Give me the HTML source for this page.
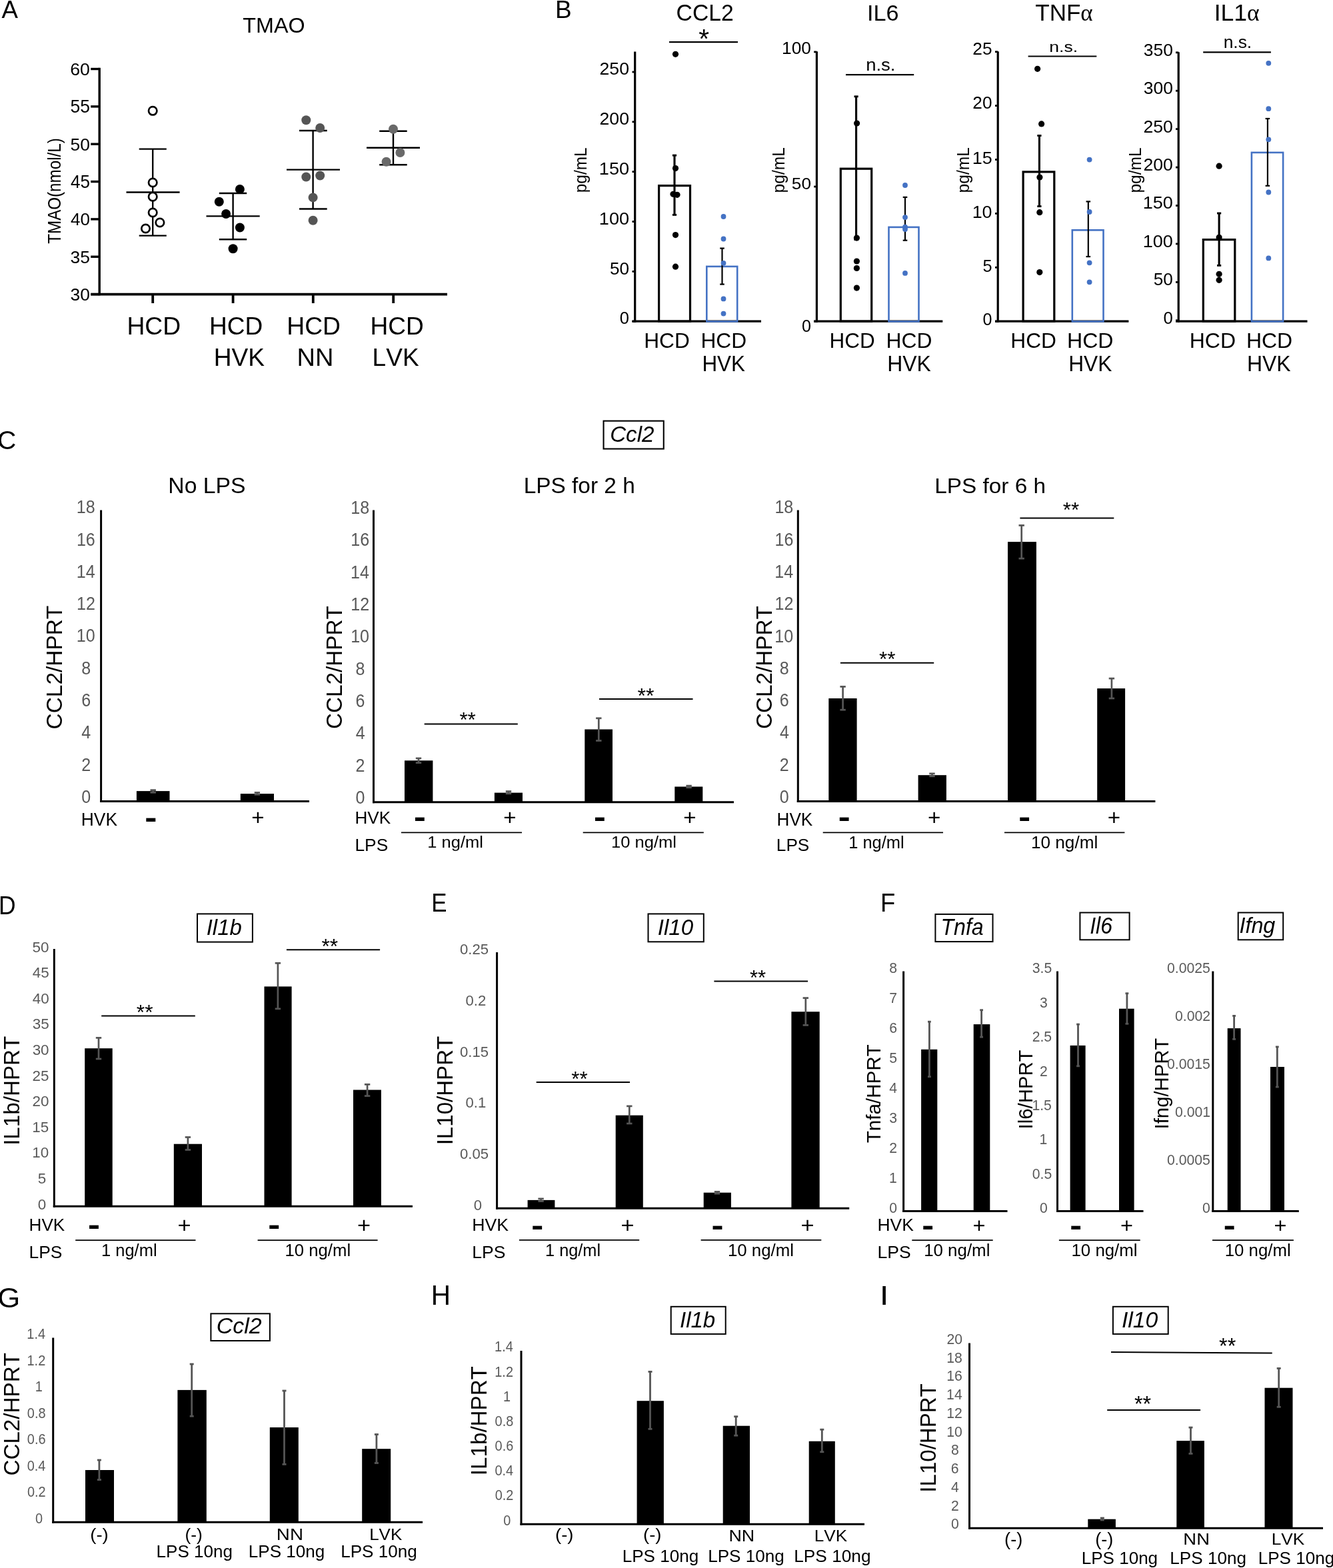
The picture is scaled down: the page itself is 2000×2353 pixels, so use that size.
<!DOCTYPE html>
<html><head><meta charset="utf-8"><title>Figure</title>
<style>
html,body{margin:0;padding:0;background:#fff;}
body{width:2000px;height:2353px;overflow:hidden;}
svg{display:block;}
svg text{font-family:'Liberation Sans',Arial,Helvetica,sans-serif;font-kerning:none;}
</style></head><body>
<svg width="2000" height="2353" viewBox="0 0 2000 2353">
<rect width="2000" height="2353" fill="#fff"/>
<text x="2.53" y="26.9" font-size="37.65" textLength="24.44" lengthAdjust="spacingAndGlyphs">A</text>
<text x="364.27" y="49.3" font-size="30.79" textLength="93.27" lengthAdjust="spacingAndGlyphs">TMAO</text>
<text x="0" y="0" font-size="26.83" textLength="158.44" lengthAdjust="spacingAndGlyphs" transform="translate(90.54 365.74) rotate(-90)">TMAO(nmol/L)</text>
<line x1="149.2" y1="101.7" x2="149.2" y2="443.3" stroke="#000" stroke-width="3.4"/>
<line x1="136.2" y1="441.6" x2="149.2" y2="441.6" stroke="#000" stroke-width="3.4"/>
<text x="105.6" y="451.14" font-size="26.69" textLength="29.33" lengthAdjust="spacingAndGlyphs">30</text>
<line x1="136.2" y1="385.25" x2="149.2" y2="385.25" stroke="#000" stroke-width="3.4"/>
<text x="105.59" y="394.79" font-size="26.69" textLength="29.42" lengthAdjust="spacingAndGlyphs">35</text>
<line x1="136.2" y1="328.9" x2="149.2" y2="328.9" stroke="#000" stroke-width="3.4"/>
<text x="106" y="338.44" font-size="26.69" textLength="28.91" lengthAdjust="spacingAndGlyphs">40</text>
<line x1="136.2" y1="272.55" x2="149.2" y2="272.55" stroke="#000" stroke-width="3.4"/>
<text x="106" y="282.09" font-size="27.09" textLength="28.99" lengthAdjust="spacingAndGlyphs">45</text>
<line x1="136.2" y1="216.2" x2="149.2" y2="216.2" stroke="#000" stroke-width="3.4"/>
<text x="105.54" y="225.74" font-size="26.69" textLength="29.39" lengthAdjust="spacingAndGlyphs">50</text>
<line x1="136.2" y1="159.85" x2="149.2" y2="159.85" stroke="#000" stroke-width="3.4"/>
<text x="105.54" y="169.39" font-size="27.09" textLength="29.47" lengthAdjust="spacingAndGlyphs">55</text>
<line x1="136.2" y1="103.5" x2="149.2" y2="103.5" stroke="#000" stroke-width="3.4"/>
<text x="105.24" y="113.04" font-size="26.69" textLength="29.7" lengthAdjust="spacingAndGlyphs">60</text>
<line x1="136.2" y1="441.6" x2="671" y2="441.6" stroke="#000" stroke-width="3.8"/>
<line x1="229.2" y1="441.6" x2="229.2" y2="455" stroke="#000" stroke-width="3.8"/>
<line x1="349.6" y1="441.6" x2="349.6" y2="455" stroke="#000" stroke-width="3.8"/>
<line x1="469.8" y1="441.6" x2="469.8" y2="455" stroke="#000" stroke-width="3.8"/>
<line x1="590.2" y1="441.6" x2="590.2" y2="455" stroke="#000" stroke-width="3.8"/>
<line x1="229.2" y1="223.6" x2="229.2" y2="353.6" stroke="#000" stroke-width="2.4"/>
<line x1="208.7" y1="223.6" x2="249.8" y2="223.6" stroke="#000" stroke-width="2.4"/>
<line x1="208.7" y1="353.6" x2="249.8" y2="353.6" stroke="#000" stroke-width="2.4"/>
<line x1="189.5" y1="288.5" x2="269.6" y2="288.5" stroke="#000" stroke-width="2.4"/>
<circle cx="229.2" cy="166.3" r="6.2" fill="#fff" stroke="#000" stroke-width="2.7"/>
<circle cx="229.2" cy="274" r="6.2" fill="#fff" stroke="#000" stroke-width="2.7"/>
<circle cx="229.2" cy="295.2" r="6.2" fill="#fff" stroke="#000" stroke-width="2.7"/>
<circle cx="229.2" cy="319" r="6.2" fill="#fff" stroke="#000" stroke-width="2.7"/>
<circle cx="239.9" cy="334" r="6.2" fill="#fff" stroke="#000" stroke-width="2.7"/>
<circle cx="218.5" cy="343" r="6.2" fill="#fff" stroke="#000" stroke-width="2.7"/>
<line x1="349.6" y1="290" x2="349.6" y2="359.3" stroke="#000" stroke-width="2.4"/>
<line x1="328.8" y1="290" x2="370.2" y2="290" stroke="#000" stroke-width="2.4"/>
<line x1="328.8" y1="359.3" x2="370.2" y2="359.3" stroke="#000" stroke-width="2.4"/>
<line x1="309.5" y1="324.4" x2="389.7" y2="324.4" stroke="#000" stroke-width="2.4"/>
<circle cx="359.9" cy="283.9" r="7" fill="#000"/>
<circle cx="328.8" cy="302.8" r="7" fill="#000"/>
<circle cx="339.1" cy="321" r="7" fill="#000"/>
<circle cx="359.9" cy="341.5" r="7" fill="#000"/>
<circle cx="349.6" cy="373.2" r="7" fill="#000"/>
<line x1="469.6" y1="196" x2="469.6" y2="313.5" stroke="#000" stroke-width="2.4"/>
<line x1="449" y1="196" x2="490.7" y2="196" stroke="#000" stroke-width="2.4"/>
<line x1="449" y1="313.5" x2="490.7" y2="313.5" stroke="#000" stroke-width="2.4"/>
<line x1="430" y1="254.6" x2="510" y2="254.6" stroke="#000" stroke-width="2.4"/>
<circle cx="459.3" cy="180.2" r="7" fill="#555"/>
<circle cx="480.2" cy="192" r="7" fill="#555"/>
<circle cx="459.3" cy="265.5" r="7" fill="#555"/>
<circle cx="480.2" cy="263.5" r="7" fill="#555"/>
<circle cx="469.6" cy="296.4" r="7" fill="#555"/>
<circle cx="469.6" cy="330.8" r="7" fill="#555"/>
<line x1="590" y1="196.8" x2="590" y2="247.2" stroke="#000" stroke-width="2.4"/>
<line x1="569.2" y1="196.8" x2="610.7" y2="196.8" stroke="#000" stroke-width="2.4"/>
<line x1="569.2" y1="247.2" x2="610.7" y2="247.2" stroke="#000" stroke-width="2.4"/>
<line x1="550" y1="221.8" x2="630" y2="221.8" stroke="#000" stroke-width="2.4"/>
<circle cx="590" cy="193.7" r="7" fill="#696969"/>
<circle cx="600.4" cy="229" r="7" fill="#696969"/>
<circle cx="579.6" cy="242.7" r="7" fill="#696969"/>
<text x="190.44" y="501.94" font-size="37.15" textLength="80.74" lengthAdjust="spacingAndGlyphs">HCD</text>
<text x="313.96" y="501.94" font-size="37.15" textLength="80.31" lengthAdjust="spacingAndGlyphs">HCD</text>
<text x="320.76" y="549.3" font-size="37.21" textLength="76.26" lengthAdjust="spacingAndGlyphs">HVK</text>
<text x="430.24" y="501.94" font-size="37.15" textLength="80.74" lengthAdjust="spacingAndGlyphs">HCD</text>
<text x="445.48" y="549.3" font-size="37.21" textLength="54.92" lengthAdjust="spacingAndGlyphs">NN</text>
<text x="555.46" y="501.94" font-size="37.15" textLength="80.31" lengthAdjust="spacingAndGlyphs">HCD</text>
<text x="558.56" y="549.3" font-size="37.21" textLength="70.06" lengthAdjust="spacingAndGlyphs">LVK</text>
<text x="833.06" y="26.9" font-size="37.65" textLength="24.69" lengthAdjust="spacingAndGlyphs">B</text>
<line x1="952.7" y1="77.5" x2="952.7" y2="483.7" stroke="#000" stroke-width="3.2"/>
<line x1="948.5" y1="482.2" x2="1142" y2="482.2" stroke="#000" stroke-width="3.2"/>
<line x1="948.5" y1="482.2" x2="952.7" y2="482.2" stroke="#000" stroke-width="2.8"/>
<line x1="948.5" y1="407.36" x2="952.7" y2="407.36" stroke="#000" stroke-width="2.8"/>
<line x1="948.5" y1="332.52" x2="952.7" y2="332.52" stroke="#000" stroke-width="2.8"/>
<line x1="948.5" y1="257.68" x2="952.7" y2="257.68" stroke="#000" stroke-width="2.8"/>
<line x1="948.5" y1="182.84" x2="952.7" y2="182.84" stroke="#000" stroke-width="2.8"/>
<line x1="948.5" y1="108" x2="952.7" y2="108" stroke="#000" stroke-width="2.8"/>
<text x="929.8" y="486.45" font-size="25.71" textLength="14.19" lengthAdjust="spacingAndGlyphs">0</text>
<text x="914.95" y="411.61" font-size="25.71" textLength="29.07" lengthAdjust="spacingAndGlyphs">50</text>
<text x="898.84" y="336.77" font-size="25.71" textLength="45.22" lengthAdjust="spacingAndGlyphs">100</text>
<text x="898.84" y="261.93" font-size="25.71" textLength="45.22" lengthAdjust="spacingAndGlyphs">150</text>
<text x="899.56" y="187.09" font-size="25.71" textLength="44.48" lengthAdjust="spacingAndGlyphs">200</text>
<text x="899.56" y="112.25" font-size="25.71" textLength="44.48" lengthAdjust="spacingAndGlyphs">250</text>
<rect x="988.6" y="278.6" width="46.9" height="203.5" fill="none" stroke="#000" stroke-width="3.2"/>
<rect x="1060.3" y="399.9" width="45.9" height="82.5" fill="none" stroke="#4472c4" stroke-width="2.6"/>
<line x1="1012" y1="233.1" x2="1012" y2="322.4" stroke="#000" stroke-width="3.1"/>
<line x1="1008.9" y1="233.1" x2="1015.1" y2="233.1" stroke="#000" stroke-width="2.9"/>
<line x1="1008.9" y1="322.4" x2="1015.1" y2="322.4" stroke="#000" stroke-width="2.9"/>
<line x1="1083.5" y1="372.6" x2="1083.5" y2="426.6" stroke="#000" stroke-width="2.2"/>
<line x1="1080.2" y1="372.6" x2="1086.8" y2="372.6" stroke="#000" stroke-width="2.2"/>
<line x1="1080.2" y1="426.6" x2="1086.8" y2="426.6" stroke="#000" stroke-width="2.2"/>
<circle cx="1013.5" cy="81.3" r="4.6" fill="#000"/>
<circle cx="1013.5" cy="252.6" r="4.6" fill="#000"/>
<circle cx="1010" cy="291.3" r="4.6" fill="#000"/>
<circle cx="1016" cy="292.3" r="4.6" fill="#000"/>
<circle cx="1013.5" cy="352.6" r="4.6" fill="#000"/>
<circle cx="1013.5" cy="400.2" r="4.6" fill="#000"/>
<circle cx="1085.5" cy="325" r="3.9" fill="#4472c4"/>
<circle cx="1085.5" cy="358.5" r="3.9" fill="#4472c4"/>
<circle cx="1085.5" cy="394.8" r="3.9" fill="#4472c4"/>
<circle cx="1085.5" cy="448.4" r="3.9" fill="#4472c4"/>
<circle cx="1085.5" cy="470.6" r="3.9" fill="#4472c4"/>
<line x1="1004" y1="63.1" x2="1107" y2="63.1" stroke="#000" stroke-width="2.2"/>
<text x="1048.35" y="71.59" font-size="40.57" textLength="15.79" lengthAdjust="spacingAndGlyphs">*</text>
<text x="1014.59" y="31.27" font-size="34.18" textLength="86.1" lengthAdjust="spacingAndGlyphs">CCL2</text>
<text x="0" y="0" font-size="26.61" textLength="67.89" lengthAdjust="spacingAndGlyphs" transform="translate(879.98 289.27) rotate(-90)">pg/mL</text>
<text x="966.2" y="521.59" font-size="32.2" textLength="68.61" lengthAdjust="spacingAndGlyphs">HCD</text>
<text x="1051.4" y="521.59" font-size="32.2" textLength="68.72" lengthAdjust="spacingAndGlyphs">HCD</text>
<text x="1053.43" y="557.1" font-size="33.14" textLength="64.53" lengthAdjust="spacingAndGlyphs">HVK</text>
<line x1="1225.4" y1="77.2" x2="1225.4" y2="483.7" stroke="#000" stroke-width="3.2"/>
<line x1="1221.2" y1="482.2" x2="1414.3" y2="482.2" stroke="#000" stroke-width="3.2"/>
<line x1="1221.2" y1="482.2" x2="1225.4" y2="482.2" stroke="#000" stroke-width="2.8"/>
<line x1="1221.2" y1="280.05" x2="1225.4" y2="280.05" stroke="#000" stroke-width="2.8"/>
<line x1="1221.2" y1="77.9" x2="1225.4" y2="77.9" stroke="#000" stroke-width="2.8"/>
<text x="1172.99" y="81.05" font-size="25.56" textLength="43.93" lengthAdjust="spacingAndGlyphs">100</text>
<text x="1187.85" y="284.06" font-size="24.58" textLength="29.17" lengthAdjust="spacingAndGlyphs">50</text>
<text x="1203.02" y="497.95" font-size="25.56" textLength="13.96" lengthAdjust="spacingAndGlyphs">0</text>
<rect x="1261.3" y="253.2" width="46.4" height="228.9" fill="none" stroke="#000" stroke-width="3.2"/>
<rect x="1333.5" y="340.9" width="45" height="141.5" fill="none" stroke="#4472c4" stroke-width="2.6"/>
<line x1="1284.6" y1="144.8" x2="1284.6" y2="359.6" stroke="#000" stroke-width="3.1"/>
<line x1="1281.5" y1="144.8" x2="1287.7" y2="144.8" stroke="#000" stroke-width="2.9"/>
<line x1="1281.5" y1="359.6" x2="1287.7" y2="359.6" stroke="#000" stroke-width="2.9"/>
<line x1="1358" y1="295.9" x2="1358" y2="360.7" stroke="#000" stroke-width="2.2"/>
<line x1="1354.7" y1="295.9" x2="1361.3" y2="295.9" stroke="#000" stroke-width="2.2"/>
<line x1="1354.7" y1="360.7" x2="1361.3" y2="360.7" stroke="#000" stroke-width="2.2"/>
<circle cx="1285.6" cy="185" r="4.6" fill="#000"/>
<circle cx="1285.4" cy="357.1" r="4.6" fill="#000"/>
<circle cx="1285.4" cy="392" r="4.6" fill="#000"/>
<circle cx="1285.4" cy="402.5" r="4.6" fill="#000"/>
<circle cx="1285.4" cy="432.1" r="4.6" fill="#000"/>
<circle cx="1358" cy="278" r="3.9" fill="#4472c4"/>
<circle cx="1358" cy="326.1" r="3.9" fill="#4472c4"/>
<circle cx="1358" cy="340.7" r="3.9" fill="#4472c4"/>
<circle cx="1358" cy="344" r="3.9" fill="#4472c4"/>
<circle cx="1358" cy="409.9" r="3.9" fill="#4472c4"/>
<line x1="1269" y1="112.1" x2="1371.2" y2="112.1" stroke="#000" stroke-width="2.2"/>
<text x="1299.17" y="105.55" font-size="26.1" textLength="44.34" lengthAdjust="spacingAndGlyphs">n.s.</text>
<text x="1300.94" y="30.97" font-size="33.9" textLength="47.56" lengthAdjust="spacingAndGlyphs">IL6</text>
<text x="0" y="0" font-size="25.64" textLength="68.3" lengthAdjust="spacingAndGlyphs" transform="translate(1176.58 289.38) rotate(-90)">pg/mL</text>
<text x="1244.52" y="521.59" font-size="32.2" textLength="68.19" lengthAdjust="spacingAndGlyphs">HCD</text>
<text x="1329.49" y="521.59" font-size="32.2" textLength="68.93" lengthAdjust="spacingAndGlyphs">HCD</text>
<text x="1331.28" y="557.1" font-size="33.14" textLength="65.57" lengthAdjust="spacingAndGlyphs">HVK</text>
<line x1="1497.2" y1="77.2" x2="1497.2" y2="483.7" stroke="#000" stroke-width="3.2"/>
<line x1="1493" y1="482.2" x2="1693.4" y2="482.2" stroke="#000" stroke-width="3.2"/>
<line x1="1493" y1="482.2" x2="1497.2" y2="482.2" stroke="#000" stroke-width="2.8"/>
<line x1="1493" y1="401.3" x2="1497.2" y2="401.3" stroke="#000" stroke-width="2.8"/>
<line x1="1493" y1="320.4" x2="1497.2" y2="320.4" stroke="#000" stroke-width="2.8"/>
<line x1="1493" y1="239.5" x2="1497.2" y2="239.5" stroke="#000" stroke-width="2.8"/>
<line x1="1493" y1="158.6" x2="1497.2" y2="158.6" stroke="#000" stroke-width="2.8"/>
<line x1="1493" y1="77.7" x2="1497.2" y2="77.7" stroke="#000" stroke-width="2.8"/>
<text x="1459.38" y="82.4" font-size="25.42" textLength="29.22" lengthAdjust="spacingAndGlyphs">25</text>
<text x="1459.38" y="162.55" font-size="25.42" textLength="29.14" lengthAdjust="spacingAndGlyphs">20</text>
<text x="1458.65" y="245.7" font-size="25.8" textLength="29.99" lengthAdjust="spacingAndGlyphs">15</text>
<text x="1458.65" y="326.5" font-size="25.42" textLength="29.9" lengthAdjust="spacingAndGlyphs">10</text>
<text x="1474.49" y="407.8" font-size="25.8" textLength="14.08" lengthAdjust="spacingAndGlyphs">5</text>
<text x="1474.52" y="487.5" font-size="25.42" textLength="13.96" lengthAdjust="spacingAndGlyphs">0</text>
<rect x="1535.1" y="257.9" width="46.7" height="224.2" fill="none" stroke="#000" stroke-width="3.2"/>
<rect x="1608.8" y="345.3" width="46.7" height="137.1" fill="none" stroke="#4472c4" stroke-width="2.6"/>
<line x1="1559.4" y1="203.5" x2="1559.4" y2="309.6" stroke="#000" stroke-width="3.1"/>
<line x1="1556.3" y1="203.5" x2="1562.5" y2="203.5" stroke="#000" stroke-width="2.9"/>
<line x1="1556.3" y1="309.6" x2="1562.5" y2="309.6" stroke="#000" stroke-width="2.9"/>
<line x1="1632.8" y1="302.4" x2="1632.8" y2="385.1" stroke="#000" stroke-width="2.2"/>
<line x1="1629.5" y1="302.4" x2="1636.1" y2="302.4" stroke="#000" stroke-width="2.2"/>
<line x1="1629.5" y1="385.1" x2="1636.1" y2="385.1" stroke="#000" stroke-width="2.2"/>
<circle cx="1556.6" cy="103.3" r="4.6" fill="#000"/>
<circle cx="1562.6" cy="185.9" r="4.6" fill="#000"/>
<circle cx="1559.9" cy="266.1" r="4.6" fill="#000"/>
<circle cx="1559.8" cy="318.7" r="4.6" fill="#000"/>
<circle cx="1559.8" cy="408.6" r="4.6" fill="#000"/>
<circle cx="1634.6" cy="239.6" r="3.9" fill="#4472c4"/>
<circle cx="1634.6" cy="318" r="3.9" fill="#4472c4"/>
<circle cx="1634.6" cy="394.3" r="3.9" fill="#4472c4"/>
<circle cx="1634.6" cy="423.3" r="3.9" fill="#4472c4"/>
<line x1="1542.6" y1="84.5" x2="1645.3" y2="84.5" stroke="#000" stroke-width="2.2"/>
<text x="1574.23" y="77.79" font-size="21.9" textLength="42.9" lengthAdjust="spacingAndGlyphs">n.s.</text>
<text x="1553.31" y="31.26" font-size="34.83" textLength="86.37" lengthAdjust="spacingAndGlyphs"><tspan font-family="'Liberation Sans',Arial,sans-serif" font-style="normal" font-weight="normal">TNF</tspan><tspan font-family="'Liberation Serif','Times New Roman',serif" font-style="normal" font-weight="normal">α</tspan></text>
<text x="0" y="0" font-size="25.53" textLength="68.3" lengthAdjust="spacingAndGlyphs" transform="translate(1453.7 289.38) rotate(-90)">pg/mL</text>
<text x="1516.3" y="521.59" font-size="32.2" textLength="68.61" lengthAdjust="spacingAndGlyphs">HCD</text>
<text x="1601.07" y="521.59" font-size="32.2" textLength="69.46" lengthAdjust="spacingAndGlyphs">HCD</text>
<text x="1603.2" y="557.1" font-size="33.14" textLength="65.16" lengthAdjust="spacingAndGlyphs">HVK</text>
<line x1="1768.2" y1="78.3" x2="1768.2" y2="483.7" stroke="#000" stroke-width="3.2"/>
<line x1="1764" y1="482.2" x2="1961.5" y2="482.2" stroke="#000" stroke-width="3.2"/>
<line x1="1764" y1="480.8" x2="1768.2" y2="480.8" stroke="#000" stroke-width="2.8"/>
<line x1="1764" y1="423.37" x2="1768.2" y2="423.37" stroke="#000" stroke-width="2.8"/>
<line x1="1764" y1="365.94" x2="1768.2" y2="365.94" stroke="#000" stroke-width="2.8"/>
<line x1="1764" y1="308.51" x2="1768.2" y2="308.51" stroke="#000" stroke-width="2.8"/>
<line x1="1764" y1="251.09" x2="1768.2" y2="251.09" stroke="#000" stroke-width="2.8"/>
<line x1="1764" y1="193.66" x2="1768.2" y2="193.66" stroke="#000" stroke-width="2.8"/>
<line x1="1764" y1="136.23" x2="1768.2" y2="136.23" stroke="#000" stroke-width="2.8"/>
<line x1="1764" y1="78.8" x2="1768.2" y2="78.8" stroke="#000" stroke-width="2.8"/>
<text x="1745.49" y="485.75" font-size="25.42" textLength="14.31" lengthAdjust="spacingAndGlyphs">0</text>
<text x="1730.75" y="428.32" font-size="25.42" textLength="29.07" lengthAdjust="spacingAndGlyphs">50</text>
<text x="1714.74" y="370.89" font-size="25.42" textLength="45.12" lengthAdjust="spacingAndGlyphs">100</text>
<text x="1714.74" y="313.47" font-size="25.42" textLength="45.12" lengthAdjust="spacingAndGlyphs">150</text>
<text x="1715.46" y="256.04" font-size="25.42" textLength="44.38" lengthAdjust="spacingAndGlyphs">200</text>
<text x="1715.46" y="198.61" font-size="25.42" textLength="44.38" lengthAdjust="spacingAndGlyphs">250</text>
<text x="1715.79" y="141.18" font-size="25.42" textLength="44.04" lengthAdjust="spacingAndGlyphs">300</text>
<text x="1715.79" y="83.75" font-size="25.42" textLength="44.04" lengthAdjust="spacingAndGlyphs">350</text>
<rect x="1805.3" y="359.6" width="47.5" height="122.5" fill="none" stroke="#000" stroke-width="3.2"/>
<rect x="1877.9" y="228.9" width="47.2" height="253.5" fill="none" stroke="#4472c4" stroke-width="2.6"/>
<line x1="1829.1" y1="320" x2="1829.1" y2="398.4" stroke="#000" stroke-width="3.1"/>
<line x1="1826" y1="320" x2="1832.2" y2="320" stroke="#000" stroke-width="2.9"/>
<line x1="1826" y1="398.4" x2="1832.2" y2="398.4" stroke="#000" stroke-width="2.9"/>
<line x1="1901.9" y1="178" x2="1901.9" y2="278.8" stroke="#000" stroke-width="2.2"/>
<line x1="1898.6" y1="178" x2="1905.2" y2="178" stroke="#000" stroke-width="2.2"/>
<line x1="1898.6" y1="278.8" x2="1905.2" y2="278.8" stroke="#000" stroke-width="2.2"/>
<circle cx="1829.1" cy="249.2" r="4.6" fill="#000"/>
<circle cx="1829.1" cy="356.3" r="4.6" fill="#000"/>
<circle cx="1829.1" cy="411.3" r="4.6" fill="#000"/>
<circle cx="1829.1" cy="420.3" r="4.6" fill="#000"/>
<circle cx="1903.3" cy="94.8" r="3.9" fill="#4472c4"/>
<circle cx="1903.3" cy="163.2" r="3.9" fill="#4472c4"/>
<circle cx="1903.3" cy="209.3" r="3.9" fill="#4472c4"/>
<circle cx="1903.3" cy="288.5" r="3.9" fill="#4472c4"/>
<circle cx="1903.3" cy="387.4" r="3.9" fill="#4472c4"/>
<line x1="1805.2" y1="78.3" x2="1906.9" y2="78.3" stroke="#000" stroke-width="2.2"/>
<text x="1835.65" y="71.76" font-size="25.01" textLength="42.56" lengthAdjust="spacingAndGlyphs">n.s.</text>
<text x="1821.72" y="31.26" font-size="35.11" textLength="67.98" lengthAdjust="spacingAndGlyphs"><tspan font-family="'Liberation Sans',Arial,sans-serif" font-style="normal" font-weight="normal">IL1</tspan><tspan font-family="'Liberation Serif','Times New Roman',serif" font-style="normal" font-weight="normal">α</tspan></text>
<text x="0" y="0" font-size="25.53" textLength="68.2" lengthAdjust="spacingAndGlyphs" transform="translate(1711.7 289.58) rotate(-90)">pg/mL</text>
<text x="1784.78" y="521.59" font-size="32.2" textLength="69.25" lengthAdjust="spacingAndGlyphs">HCD</text>
<text x="1869.88" y="521.59" font-size="32.2" textLength="69.25" lengthAdjust="spacingAndGlyphs">HCD</text>
<text x="1870.98" y="557.1" font-size="33.14" textLength="65.68" lengthAdjust="spacingAndGlyphs">HVK</text>
<text x="-4.09" y="674.32" font-size="39.12" textLength="28.28" lengthAdjust="spacingAndGlyphs">C</text>
<rect x="905.55" y="631.65" width="90.2" height="41.9" fill="none" stroke="#000" stroke-width="2.1"/>
<text x="915.17" y="663.07" font-size="33.63" textLength="66.31" lengthAdjust="spacingAndGlyphs" font-style="italic">Ccl2</text>
<text x="252.33" y="740.17" font-size="34.04" textLength="116.21" lengthAdjust="spacingAndGlyphs">No LPS</text>
<text x="0" y="0" font-size="32.82" textLength="185.66" lengthAdjust="spacingAndGlyphs" transform="translate(93.18 1094.4) rotate(-90)">CCL2/HPRT</text>
<text x="122.27" y="1204.99" font-size="27" textLength="13.96" lengthAdjust="spacingAndGlyphs" fill="#595959">0</text>
<text x="122.27" y="1156.83" font-size="27" textLength="13.96" lengthAdjust="spacingAndGlyphs" fill="#595959">2</text>
<text x="122.35" y="1108.39" font-size="27" textLength="13.96" lengthAdjust="spacingAndGlyphs" fill="#595959">4</text>
<text x="122.18" y="1060.09" font-size="27" textLength="13.96" lengthAdjust="spacingAndGlyphs" fill="#595959">6</text>
<text x="122.27" y="1011.79" font-size="27" textLength="13.96" lengthAdjust="spacingAndGlyphs" fill="#595959">8</text>
<text x="114.82" y="963.49" font-size="27" textLength="27.93" lengthAdjust="spacingAndGlyphs" fill="#595959">10</text>
<text x="114.96" y="915.33" font-size="27" textLength="27.93" lengthAdjust="spacingAndGlyphs" fill="#595959">12</text>
<text x="114.7" y="866.89" font-size="27" textLength="27.93" lengthAdjust="spacingAndGlyphs" fill="#595959">14</text>
<text x="114.88" y="818.59" font-size="27" textLength="27.93" lengthAdjust="spacingAndGlyphs" fill="#595959">16</text>
<text x="114.87" y="770.29" font-size="27" textLength="27.93" lengthAdjust="spacingAndGlyphs" fill="#595959">18</text>
<rect x="204.9" y="1187.1" width="49.6" height="15.3" fill="#000"/>
<rect x="360.8" y="1191.1" width="50.2" height="11.3" fill="#000"/>
<line x1="229.7" y1="1185.65" x2="229.7" y2="1189.25" stroke="#555" stroke-width="2.7"/>
<line x1="225.5" y1="1185.65" x2="233.9" y2="1185.65" stroke="#555" stroke-width="2.7"/>
<line x1="225.5" y1="1189.25" x2="233.9" y2="1189.25" stroke="#555" stroke-width="2.7"/>
<line x1="385.9" y1="1189.35" x2="385.9" y2="1192.25" stroke="#555" stroke-width="2.7"/>
<line x1="381.7" y1="1189.35" x2="390.1" y2="1189.35" stroke="#555" stroke-width="2.7"/>
<line x1="381.7" y1="1192.25" x2="390.1" y2="1192.25" stroke="#555" stroke-width="2.7"/>
<line x1="151.6" y1="765.5" x2="151.6" y2="1203.9" stroke="#000" stroke-width="3"/>
<line x1="150.1" y1="1202.4" x2="464" y2="1202.4" stroke="#000" stroke-width="3"/>
<text x="121.74" y="1239" font-size="26.89" textLength="54.26" lengthAdjust="spacingAndGlyphs">HVK</text>
<text x="216.65" y="1248.52" font-size="67.84" textLength="19.1" lengthAdjust="spacingAndGlyphs">-</text>
<text x="377.28" y="1238.06" font-size="32.5" textLength="19.35" lengthAdjust="spacingAndGlyphs">+</text>
<text x="785.66" y="740.18" font-size="33.09" textLength="167.11" lengthAdjust="spacingAndGlyphs">LPS for 2 h</text>
<text x="0" y="0" font-size="33.63" textLength="184.95" lengthAdjust="spacingAndGlyphs" transform="translate(513.47 1094.09) rotate(-90)">CCL2/HPRT</text>
<text x="533.62" y="1205.89" font-size="27" textLength="13.96" lengthAdjust="spacingAndGlyphs" fill="#595959">0</text>
<text x="533.62" y="1157.73" font-size="27" textLength="13.96" lengthAdjust="spacingAndGlyphs" fill="#595959">2</text>
<text x="533.7" y="1109.29" font-size="27" textLength="13.96" lengthAdjust="spacingAndGlyphs" fill="#595959">4</text>
<text x="533.53" y="1060.99" font-size="27" textLength="13.96" lengthAdjust="spacingAndGlyphs" fill="#595959">6</text>
<text x="533.62" y="1012.69" font-size="27" textLength="13.96" lengthAdjust="spacingAndGlyphs" fill="#595959">8</text>
<text x="526.17" y="964.39" font-size="27" textLength="27.93" lengthAdjust="spacingAndGlyphs" fill="#595959">10</text>
<text x="526.31" y="916.23" font-size="27" textLength="27.93" lengthAdjust="spacingAndGlyphs" fill="#595959">12</text>
<text x="526.05" y="867.79" font-size="27" textLength="27.93" lengthAdjust="spacingAndGlyphs" fill="#595959">14</text>
<text x="526.23" y="819.49" font-size="27" textLength="27.93" lengthAdjust="spacingAndGlyphs" fill="#595959">16</text>
<text x="526.22" y="771.19" font-size="27" textLength="27.93" lengthAdjust="spacingAndGlyphs" fill="#595959">18</text>
<rect x="607" y="1141.3" width="42.4" height="62.5" fill="#000"/>
<rect x="741.9" y="1189.6" width="42.1" height="14.2" fill="#000"/>
<rect x="877.3" y="1094.5" width="41.7" height="109.3" fill="#000"/>
<rect x="1012.3" y="1180.5" width="42" height="23.3" fill="#000"/>
<line x1="628" y1="1137.95" x2="628" y2="1144.65" stroke="#555" stroke-width="2.7"/>
<line x1="623.8" y1="1137.95" x2="632.2" y2="1137.95" stroke="#555" stroke-width="2.7"/>
<line x1="623.8" y1="1144.65" x2="632.2" y2="1144.65" stroke="#555" stroke-width="2.7"/>
<line x1="763" y1="1187.55" x2="763" y2="1190.85" stroke="#555" stroke-width="2.7"/>
<line x1="758.8" y1="1187.55" x2="767.2" y2="1187.55" stroke="#555" stroke-width="2.7"/>
<line x1="758.8" y1="1190.85" x2="767.2" y2="1190.85" stroke="#555" stroke-width="2.7"/>
<line x1="898.3" y1="1077.8" x2="898.3" y2="1111.5" stroke="#555" stroke-width="2.7"/>
<line x1="894.1" y1="1077.8" x2="902.5" y2="1077.8" stroke="#555" stroke-width="2.7"/>
<line x1="894.1" y1="1111.5" x2="902.5" y2="1111.5" stroke="#555" stroke-width="2.7"/>
<line x1="1033.6" y1="1179.15" x2="1033.6" y2="1181.75" stroke="#555" stroke-width="2.7"/>
<line x1="1029.4" y1="1179.15" x2="1037.8" y2="1179.15" stroke="#555" stroke-width="2.7"/>
<line x1="1029.4" y1="1181.75" x2="1037.8" y2="1181.75" stroke="#555" stroke-width="2.7"/>
<line x1="560.5" y1="765.5" x2="560.5" y2="1205.3" stroke="#000" stroke-width="3"/>
<line x1="559" y1="1203.8" x2="1101" y2="1203.8" stroke="#000" stroke-width="3"/>
<line x1="636.7" y1="1086.6" x2="776.8" y2="1086.6" stroke="#000" stroke-width="2"/>
<text x="689.39" y="1091.08" font-size="31.48" textLength="24.5" lengthAdjust="spacingAndGlyphs">**</text>
<line x1="899" y1="1049.1" x2="1039.5" y2="1049.1" stroke="#000" stroke-width="2"/>
<text x="956.48" y="1055.17" font-size="32.15" textLength="25.02" lengthAdjust="spacingAndGlyphs">**</text>
<text x="532.46" y="1236" font-size="26.6" textLength="53.74" lengthAdjust="spacingAndGlyphs">HVK</text>
<text x="620.59" y="1247.82" font-size="67.84" textLength="18.82" lengthAdjust="spacingAndGlyphs">-</text>
<text x="755.38" y="1238.06" font-size="32.5" textLength="19.35" lengthAdjust="spacingAndGlyphs">+</text>
<text x="890.39" y="1247.82" font-size="67.84" textLength="18.82" lengthAdjust="spacingAndGlyphs">-</text>
<text x="1025.38" y="1238.06" font-size="32.5" textLength="19.35" lengthAdjust="spacingAndGlyphs">+</text>
<line x1="602" y1="1249.3" x2="783" y2="1249.3" stroke="#000" stroke-width="1.8"/>
<line x1="874.7" y1="1249.3" x2="1055.8" y2="1249.3" stroke="#000" stroke-width="1.8"/>
<text x="532.44" y="1276.75" font-size="25.85" textLength="49.77" lengthAdjust="spacingAndGlyphs">LPS</text>
<text x="641.36" y="1272.27" font-size="24.25" textLength="83.54" lengthAdjust="spacingAndGlyphs">1 ng/ml</text>
<text x="917.05" y="1272.27" font-size="24.25" textLength="97.95" lengthAdjust="spacingAndGlyphs">10 ng/ml</text>
<text x="1402.16" y="740.09" font-size="32.14" textLength="166.9" lengthAdjust="spacingAndGlyphs">LPS for 6 h</text>
<text x="0" y="0" font-size="33.36" textLength="184.95" lengthAdjust="spacingAndGlyphs" transform="translate(1157.87 1094.09) rotate(-90)">CCL2/HPRT</text>
<text x="1169.82" y="1205.09" font-size="27" textLength="13.96" lengthAdjust="spacingAndGlyphs" fill="#595959">0</text>
<text x="1169.82" y="1156.93" font-size="27" textLength="13.96" lengthAdjust="spacingAndGlyphs" fill="#595959">2</text>
<text x="1169.9" y="1108.49" font-size="27" textLength="13.96" lengthAdjust="spacingAndGlyphs" fill="#595959">4</text>
<text x="1169.73" y="1060.19" font-size="27" textLength="13.96" lengthAdjust="spacingAndGlyphs" fill="#595959">6</text>
<text x="1169.82" y="1011.89" font-size="27" textLength="13.96" lengthAdjust="spacingAndGlyphs" fill="#595959">8</text>
<text x="1162.37" y="963.59" font-size="27" textLength="27.93" lengthAdjust="spacingAndGlyphs" fill="#595959">10</text>
<text x="1162.51" y="915.43" font-size="27" textLength="27.93" lengthAdjust="spacingAndGlyphs" fill="#595959">12</text>
<text x="1162.25" y="866.99" font-size="27" textLength="27.93" lengthAdjust="spacingAndGlyphs" fill="#595959">14</text>
<text x="1162.43" y="818.69" font-size="27" textLength="27.93" lengthAdjust="spacingAndGlyphs" fill="#595959">16</text>
<text x="1162.42" y="770.39" font-size="27" textLength="27.93" lengthAdjust="spacingAndGlyphs" fill="#595959">18</text>
<rect x="1243.3" y="1048" width="42.3" height="154.5" fill="#000"/>
<rect x="1377.6" y="1163.2" width="42.3" height="39.3" fill="#000"/>
<rect x="1512" y="813.1" width="42.9" height="389.4" fill="#000"/>
<rect x="1646.2" y="1033.1" width="41.9" height="169.4" fill="#000"/>
<line x1="1264.6" y1="1030.4" x2="1264.6" y2="1065.2" stroke="#555" stroke-width="2.7"/>
<line x1="1260.4" y1="1030.4" x2="1268.8" y2="1030.4" stroke="#555" stroke-width="2.7"/>
<line x1="1260.4" y1="1065.2" x2="1268.8" y2="1065.2" stroke="#555" stroke-width="2.7"/>
<line x1="1398.5" y1="1160.85" x2="1398.5" y2="1164.85" stroke="#555" stroke-width="2.7"/>
<line x1="1394.3" y1="1160.85" x2="1402.7" y2="1160.85" stroke="#555" stroke-width="2.7"/>
<line x1="1394.3" y1="1164.85" x2="1402.7" y2="1164.85" stroke="#555" stroke-width="2.7"/>
<line x1="1532.7" y1="788.4" x2="1532.7" y2="838.1" stroke="#555" stroke-width="2.7"/>
<line x1="1528.5" y1="788.4" x2="1536.9" y2="788.4" stroke="#555" stroke-width="2.7"/>
<line x1="1528.5" y1="838.1" x2="1536.9" y2="838.1" stroke="#555" stroke-width="2.7"/>
<line x1="1667.9" y1="1018.1" x2="1667.9" y2="1048" stroke="#555" stroke-width="2.7"/>
<line x1="1663.7" y1="1018.1" x2="1672.1" y2="1018.1" stroke="#555" stroke-width="2.7"/>
<line x1="1663.7" y1="1048" x2="1672.1" y2="1048" stroke="#555" stroke-width="2.7"/>
<line x1="1197.3" y1="765.5" x2="1197.3" y2="1204" stroke="#000" stroke-width="3"/>
<line x1="1195.8" y1="1202.5" x2="1733.4" y2="1202.5" stroke="#000" stroke-width="3"/>
<line x1="1260.9" y1="994.8" x2="1401.2" y2="994.8" stroke="#000" stroke-width="2"/>
<text x="1318.99" y="999.98" font-size="31.48" textLength="24.5" lengthAdjust="spacingAndGlyphs">**</text>
<line x1="1530.4" y1="777.5" x2="1671.3" y2="777.5" stroke="#000" stroke-width="2"/>
<text x="1594.69" y="775.71" font-size="31.34" textLength="24.39" lengthAdjust="spacingAndGlyphs">**</text>
<text x="1165.56" y="1239" font-size="26.89" textLength="53.74" lengthAdjust="spacingAndGlyphs">HVK</text>
<text x="1257.29" y="1248.32" font-size="67.84" textLength="18.82" lengthAdjust="spacingAndGlyphs">-</text>
<text x="1392.08" y="1238.36" font-size="32.5" textLength="19.35" lengthAdjust="spacingAndGlyphs">+</text>
<text x="1527.69" y="1248.32" font-size="67.84" textLength="18.82" lengthAdjust="spacingAndGlyphs">-</text>
<text x="1661.88" y="1238.36" font-size="32.5" textLength="19.35" lengthAdjust="spacingAndGlyphs">+</text>
<line x1="1234.7" y1="1249.3" x2="1415" y2="1249.3" stroke="#000" stroke-width="1.8"/>
<line x1="1507" y1="1249.3" x2="1687.4" y2="1249.3" stroke="#000" stroke-width="1.8"/>
<text x="1164.85" y="1276.94" font-size="26.41" textLength="49.45" lengthAdjust="spacingAndGlyphs">LPS</text>
<text x="1273.16" y="1273" font-size="25.53" textLength="83.54" lengthAdjust="spacingAndGlyphs">1 ng/ml</text>
<text x="1547.01" y="1273" font-size="25.53" textLength="100.24" lengthAdjust="spacingAndGlyphs">10 ng/ml</text>
<text x="-1.91" y="1371.7" font-size="38.23" textLength="25.61" lengthAdjust="spacingAndGlyphs">D</text>
<rect x="296" y="1371.4" width="82.9" height="42.2" fill="none" stroke="#000" stroke-width="2"/>
<text x="309.7" y="1402.68" font-size="32.82" textLength="53.01" lengthAdjust="spacingAndGlyphs" font-style="italic">Il1b</text>
<text x="0" y="0" font-size="32.82" textLength="164.12" lengthAdjust="spacingAndGlyphs" transform="translate(29.18 1718.86) rotate(-90)">IL1b/HPRT</text>
<text x="56.77" y="1814.61" font-size="22.4" textLength="12.46" lengthAdjust="spacingAndGlyphs" fill="#595959">0</text>
<text x="56.79" y="1775.9" font-size="22.4" textLength="12.46" lengthAdjust="spacingAndGlyphs" fill="#595959">5</text>
<text x="48.23" y="1737.41" font-size="22.4" textLength="24.92" lengthAdjust="spacingAndGlyphs" fill="#595959">10</text>
<text x="48.26" y="1698.7" font-size="22.4" textLength="24.92" lengthAdjust="spacingAndGlyphs" fill="#595959">15</text>
<text x="48.52" y="1660.21" font-size="22.4" textLength="24.92" lengthAdjust="spacingAndGlyphs" fill="#595959">20</text>
<text x="48.55" y="1621.61" font-size="22.4" textLength="24.92" lengthAdjust="spacingAndGlyphs" fill="#595959">25</text>
<text x="48.65" y="1583.01" font-size="22.4" textLength="24.92" lengthAdjust="spacingAndGlyphs" fill="#595959">30</text>
<text x="48.69" y="1544.41" font-size="22.4" textLength="24.92" lengthAdjust="spacingAndGlyphs" fill="#595959">35</text>
<text x="48.82" y="1505.81" font-size="22.4" textLength="24.92" lengthAdjust="spacingAndGlyphs" fill="#595959">40</text>
<text x="48.86" y="1467.1" font-size="22.4" textLength="24.92" lengthAdjust="spacingAndGlyphs" fill="#595959">45</text>
<text x="48.63" y="1428.61" font-size="22.4" textLength="24.92" lengthAdjust="spacingAndGlyphs" fill="#595959">50</text>
<rect x="127.2" y="1573.2" width="41.5" height="237" fill="#000"/>
<rect x="260.8" y="1716.7" width="42.2" height="93.5" fill="#000"/>
<rect x="396.5" y="1480.4" width="41.1" height="329.8" fill="#000"/>
<rect x="530" y="1635.5" width="41.9" height="174.7" fill="#000"/>
<line x1="148" y1="1557.4" x2="148" y2="1589" stroke="#555" stroke-width="2.7"/>
<line x1="143.8" y1="1557.4" x2="152.2" y2="1557.4" stroke="#555" stroke-width="2.7"/>
<line x1="143.8" y1="1589" x2="152.2" y2="1589" stroke="#555" stroke-width="2.7"/>
<line x1="281.9" y1="1706.5" x2="281.9" y2="1725.5" stroke="#555" stroke-width="2.7"/>
<line x1="277.7" y1="1706.5" x2="286.1" y2="1706.5" stroke="#555" stroke-width="2.7"/>
<line x1="277.7" y1="1725.5" x2="286.1" y2="1725.5" stroke="#555" stroke-width="2.7"/>
<line x1="416.9" y1="1445.3" x2="416.9" y2="1513.8" stroke="#555" stroke-width="2.7"/>
<line x1="412.7" y1="1445.3" x2="421.1" y2="1445.3" stroke="#555" stroke-width="2.7"/>
<line x1="412.7" y1="1513.8" x2="421.1" y2="1513.8" stroke="#555" stroke-width="2.7"/>
<line x1="551.1" y1="1627.3" x2="551.1" y2="1644.6" stroke="#555" stroke-width="2.7"/>
<line x1="546.9" y1="1627.3" x2="555.3" y2="1627.3" stroke="#555" stroke-width="2.7"/>
<line x1="546.9" y1="1644.6" x2="555.3" y2="1644.6" stroke="#555" stroke-width="2.7"/>
<line x1="81.3" y1="1424" x2="81.3" y2="1811.7" stroke="#000" stroke-width="3"/>
<line x1="79.8" y1="1810.2" x2="619" y2="1810.2" stroke="#000" stroke-width="3"/>
<line x1="152.2" y1="1524.4" x2="292.8" y2="1524.4" stroke="#000" stroke-width="2"/>
<text x="204.79" y="1529.77" font-size="31.74" textLength="24.71" lengthAdjust="spacingAndGlyphs">**</text>
<line x1="429.9" y1="1425.3" x2="570.1" y2="1425.3" stroke="#000" stroke-width="2"/>
<text x="482.49" y="1430.57" font-size="31.74" textLength="24.71" lengthAdjust="spacingAndGlyphs">**</text>
<text x="43.56" y="1847.1" font-size="26.31" textLength="53.63" lengthAdjust="spacingAndGlyphs">HVK</text>
<text x="131.47" y="1860.42" font-size="67.84" textLength="18.96" lengthAdjust="spacingAndGlyphs">-</text>
<text x="266.42" y="1850.06" font-size="32.5" textLength="20.07" lengthAdjust="spacingAndGlyphs">+</text>
<text x="401.77" y="1860.42" font-size="67.84" textLength="18.96" lengthAdjust="spacingAndGlyphs">-</text>
<text x="536.12" y="1850.06" font-size="32.5" textLength="20.07" lengthAdjust="spacingAndGlyphs">+</text>
<line x1="113.2" y1="1861.2" x2="293.5" y2="1861.2" stroke="#000" stroke-width="1.8"/>
<line x1="386.6" y1="1861.2" x2="566.6" y2="1861.2" stroke="#000" stroke-width="1.8"/>
<text x="43.54" y="1887.65" font-size="25.56" textLength="49.88" lengthAdjust="spacingAndGlyphs">LPS</text>
<text x="152.06" y="1884.9" font-size="25.53" textLength="83.54" lengthAdjust="spacingAndGlyphs">1 ng/ml</text>
<text x="427.54" y="1884.9" font-size="25.53" textLength="98.58" lengthAdjust="spacingAndGlyphs">10 ng/ml</text>
<text x="647.14" y="1367.9" font-size="38.23" textLength="23.26" lengthAdjust="spacingAndGlyphs">E</text>
<rect x="972.5" y="1371.4" width="83.3" height="41.9" fill="none" stroke="#000" stroke-width="2"/>
<text x="986.69" y="1403.17" font-size="33.5" textLength="53.38" lengthAdjust="spacingAndGlyphs" font-style="italic">Il10</text>
<text x="0" y="0" font-size="32.68" textLength="163.61" lengthAdjust="spacingAndGlyphs" transform="translate(679.38 1718.35) rotate(-90)">IL10/HPRT</text>
<text x="710.84" y="1815.98" font-size="22.6" textLength="12.32" lengthAdjust="spacingAndGlyphs" fill="#595959">0</text>
<text x="689.98" y="1739.16" font-size="22.6" textLength="43.11" lengthAdjust="spacingAndGlyphs" fill="#595959">0.05</text>
<text x="698.51" y="1662.34" font-size="22.6" textLength="30.79" lengthAdjust="spacingAndGlyphs" fill="#595959">0.1</text>
<text x="689.98" y="1585.52" font-size="22.6" textLength="43.11" lengthAdjust="spacingAndGlyphs" fill="#595959">0.15</text>
<text x="698.53" y="1508.7" font-size="22.6" textLength="30.79" lengthAdjust="spacingAndGlyphs" fill="#595959">0.2</text>
<text x="689.98" y="1431.88" font-size="22.6" textLength="43.11" lengthAdjust="spacingAndGlyphs" fill="#595959">0.25</text>
<rect x="791.6" y="1800.9" width="40.8" height="12.3" fill="#000"/>
<rect x="923.7" y="1673.7" width="41.1" height="139.5" fill="#000"/>
<rect x="1055.7" y="1789.7" width="41.2" height="23.5" fill="#000"/>
<rect x="1187.4" y="1518.2" width="42.3" height="295" fill="#000"/>
<line x1="811.6" y1="1798.85" x2="811.6" y2="1802.65" stroke="#555" stroke-width="2.7"/>
<line x1="807.4" y1="1798.85" x2="815.8" y2="1798.85" stroke="#555" stroke-width="2.7"/>
<line x1="807.4" y1="1802.65" x2="815.8" y2="1802.65" stroke="#555" stroke-width="2.7"/>
<line x1="944.3" y1="1659.9" x2="944.3" y2="1686" stroke="#555" stroke-width="2.7"/>
<line x1="940.1" y1="1659.9" x2="948.5" y2="1659.9" stroke="#555" stroke-width="2.7"/>
<line x1="940.1" y1="1686" x2="948.5" y2="1686" stroke="#555" stroke-width="2.7"/>
<line x1="1076" y1="1788.35" x2="1076" y2="1791.15" stroke="#555" stroke-width="2.7"/>
<line x1="1071.8" y1="1788.35" x2="1080.2" y2="1788.35" stroke="#555" stroke-width="2.7"/>
<line x1="1071.8" y1="1791.15" x2="1080.2" y2="1791.15" stroke="#555" stroke-width="2.7"/>
<line x1="1208.8" y1="1497.6" x2="1208.8" y2="1538.4" stroke="#555" stroke-width="2.7"/>
<line x1="1204.6" y1="1497.6" x2="1213" y2="1497.6" stroke="#555" stroke-width="2.7"/>
<line x1="1204.6" y1="1538.4" x2="1213" y2="1538.4" stroke="#555" stroke-width="2.7"/>
<line x1="745.6" y1="1429" x2="745.6" y2="1814.7" stroke="#000" stroke-width="3"/>
<line x1="744.1" y1="1813.2" x2="1274.2" y2="1813.2" stroke="#000" stroke-width="3"/>
<line x1="804.7" y1="1624" x2="945" y2="1624" stroke="#000" stroke-width="2"/>
<text x="857.29" y="1629.86" font-size="31.34" textLength="24.39" lengthAdjust="spacingAndGlyphs">**</text>
<line x1="1071.4" y1="1472.5" x2="1212.1" y2="1472.5" stroke="#000" stroke-width="2"/>
<text x="1124.9" y="1478.32" font-size="31.07" textLength="24.19" lengthAdjust="spacingAndGlyphs">**</text>
<text x="708.21" y="1847.4" font-size="26.31" textLength="54.89" lengthAdjust="spacingAndGlyphs">HVK</text>
<text x="796.67" y="1860.52" font-size="67.84" textLength="18.96" lengthAdjust="spacingAndGlyphs">-</text>
<text x="931.42" y="1850.19" font-size="32.91" textLength="20.07" lengthAdjust="spacingAndGlyphs">+</text>
<text x="1067.07" y="1860.52" font-size="67.84" textLength="18.96" lengthAdjust="spacingAndGlyphs">-</text>
<text x="1201.42" y="1850.19" font-size="32.91" textLength="20.07" lengthAdjust="spacingAndGlyphs">+</text>
<line x1="778.9" y1="1860.8" x2="959.2" y2="1860.8" stroke="#000" stroke-width="1.8"/>
<line x1="1051.6" y1="1860.8" x2="1232.3" y2="1860.8" stroke="#000" stroke-width="1.8"/>
<text x="708.22" y="1887.75" font-size="25.56" textLength="50.2" lengthAdjust="spacingAndGlyphs">LPS</text>
<text x="818.07" y="1884.9" font-size="25.53" textLength="83.02" lengthAdjust="spacingAndGlyphs">1 ng/ml</text>
<text x="1091.93" y="1884.9" font-size="25.53" textLength="99.1" lengthAdjust="spacingAndGlyphs">10 ng/ml</text>
<text x="1321.11" y="1367.8" font-size="38.23" textLength="22.25" lengthAdjust="spacingAndGlyphs">F</text>
<rect x="1403.4" y="1371.9" width="86.1" height="41.2" fill="none" stroke="#000" stroke-width="2"/>
<text x="1411.41" y="1403.06" font-size="34.59" textLength="64.28" lengthAdjust="spacingAndGlyphs" font-style="italic">Tnfa</text>
<rect x="1620.4" y="1369.5" width="74.2" height="40.8" fill="none" stroke="#000" stroke-width="2"/>
<text x="1635.24" y="1401.06" font-size="34.59" textLength="33.76" lengthAdjust="spacingAndGlyphs" font-style="italic">Il6</text>
<rect x="1857.7" y="1369.5" width="67.5" height="40.8" fill="none" stroke="#000" stroke-width="2"/>
<text x="1859.42" y="1400.41" font-size="33.69" textLength="53.96" lengthAdjust="spacingAndGlyphs" font-style="italic">Ifng</text>
<text x="0" y="0" font-size="29.55" textLength="148.04" lengthAdjust="spacingAndGlyphs" transform="translate(1320.81 1715.36) rotate(-90)">Tnfa/HPRT</text>
<text x="1334.3" y="1820" font-size="21.2" textLength="11.79" lengthAdjust="spacingAndGlyphs" fill="#595959">0</text>
<text x="1334.01" y="1774.99" font-size="21.2" textLength="11.79" lengthAdjust="spacingAndGlyphs" fill="#595959">1</text>
<text x="1334.3" y="1730.1" font-size="21.2" textLength="11.79" lengthAdjust="spacingAndGlyphs" fill="#595959">2</text>
<text x="1334.37" y="1685" font-size="21.2" textLength="11.79" lengthAdjust="spacingAndGlyphs" fill="#595959">3</text>
<text x="1334.37" y="1639.99" font-size="21.2" textLength="11.79" lengthAdjust="spacingAndGlyphs" fill="#595959">4</text>
<text x="1334.33" y="1594.89" font-size="21.2" textLength="11.79" lengthAdjust="spacingAndGlyphs" fill="#595959">5</text>
<text x="1334.23" y="1550" font-size="21.2" textLength="11.79" lengthAdjust="spacingAndGlyphs" fill="#595959">6</text>
<text x="1334.29" y="1504.99" font-size="21.2" textLength="11.79" lengthAdjust="spacingAndGlyphs" fill="#595959">7</text>
<text x="1334.3" y="1460" font-size="21.2" textLength="11.79" lengthAdjust="spacingAndGlyphs" fill="#595959">8</text>
<rect x="1382.1" y="1574.8" width="24.2" height="242.7" fill="#000"/>
<rect x="1460.7" y="1537.1" width="24.6" height="280.4" fill="#000"/>
<line x1="1394.4" y1="1533.2" x2="1394.4" y2="1615.7" stroke="#555" stroke-width="2.8"/>
<line x1="1392" y1="1533.2" x2="1396.8" y2="1533.2" stroke="#555" stroke-width="2.8"/>
<line x1="1392" y1="1615.7" x2="1396.8" y2="1615.7" stroke="#555" stroke-width="2.8"/>
<line x1="1472.6" y1="1515.7" x2="1472.6" y2="1556.2" stroke="#555" stroke-width="2.8"/>
<line x1="1470.2" y1="1515.7" x2="1475" y2="1515.7" stroke="#555" stroke-width="2.8"/>
<line x1="1470.2" y1="1556.2" x2="1475" y2="1556.2" stroke="#555" stroke-width="2.8"/>
<line x1="1355.6" y1="1457.5" x2="1355.6" y2="1819" stroke="#000" stroke-width="3"/>
<line x1="1354.1" y1="1817.5" x2="1511.5" y2="1817.5" stroke="#000" stroke-width="3"/>
<text x="1316.53" y="1847.2" font-size="26.02" textLength="54.37" lengthAdjust="spacingAndGlyphs">HVK</text>
<text x="1382.69" y="1860.52" font-size="67.84" textLength="18.82" lengthAdjust="spacingAndGlyphs">-</text>
<text x="1459.51" y="1849.8" font-size="31.89" textLength="18.99" lengthAdjust="spacingAndGlyphs">+</text>
<line x1="1368.3" y1="1861.1" x2="1489.7" y2="1861.1" stroke="#000" stroke-width="1.8"/>
<text x="1316.52" y="1887.65" font-size="25.56" textLength="50.2" lengthAdjust="spacingAndGlyphs">LPS</text>
<text x="1386.13" y="1884.9" font-size="25.53" textLength="99.3" lengthAdjust="spacingAndGlyphs">10 ng/ml</text>
<text x="0" y="0" font-size="29" textLength="118.88" lengthAdjust="spacingAndGlyphs" transform="translate(1548.82 1694.4) rotate(-90)">Il6/HPRT</text>
<text x="1559.9" y="1820" font-size="21.2" textLength="11.79" lengthAdjust="spacingAndGlyphs" fill="#595959">0</text>
<text x="1548.8" y="1768.6" font-size="21.2" textLength="29.47" lengthAdjust="spacingAndGlyphs" fill="#595959">0.5</text>
<text x="1559.61" y="1717.19" font-size="21.2" textLength="11.79" lengthAdjust="spacingAndGlyphs" fill="#595959">1</text>
<text x="1548.4" y="1665.69" font-size="21.2" textLength="29.47" lengthAdjust="spacingAndGlyphs" fill="#595959">1.5</text>
<text x="1559.9" y="1614.5" font-size="21.2" textLength="11.79" lengthAdjust="spacingAndGlyphs" fill="#595959">2</text>
<text x="1548.68" y="1563" font-size="21.2" textLength="29.47" lengthAdjust="spacingAndGlyphs" fill="#595959">2.5</text>
<text x="1559.97" y="1511.6" font-size="21.2" textLength="11.79" lengthAdjust="spacingAndGlyphs" fill="#595959">3</text>
<text x="1548.81" y="1460.2" font-size="21.2" textLength="29.47" lengthAdjust="spacingAndGlyphs" fill="#595959">3.5</text>
<rect x="1605.6" y="1568.9" width="23" height="248.6" fill="#000"/>
<rect x="1679" y="1513.7" width="22.6" height="303.8" fill="#000"/>
<line x1="1617.5" y1="1537.1" x2="1617.5" y2="1599.8" stroke="#555" stroke-width="2.8"/>
<line x1="1615.1" y1="1537.1" x2="1619.9" y2="1537.1" stroke="#555" stroke-width="2.8"/>
<line x1="1615.1" y1="1599.8" x2="1619.9" y2="1599.8" stroke="#555" stroke-width="2.8"/>
<line x1="1690.9" y1="1490.7" x2="1690.9" y2="1536.3" stroke="#555" stroke-width="2.8"/>
<line x1="1688.5" y1="1490.7" x2="1693.3" y2="1490.7" stroke="#555" stroke-width="2.8"/>
<line x1="1688.5" y1="1536.3" x2="1693.3" y2="1536.3" stroke="#555" stroke-width="2.8"/>
<line x1="1586.5" y1="1457.5" x2="1586.5" y2="1819" stroke="#000" stroke-width="3"/>
<line x1="1585" y1="1817.5" x2="1715.5" y2="1817.5" stroke="#000" stroke-width="3"/>
<text x="1604.79" y="1860.52" font-size="67.84" textLength="18.82" lengthAdjust="spacingAndGlyphs">-</text>
<text x="1681.11" y="1849.8" font-size="31.89" textLength="18.99" lengthAdjust="spacingAndGlyphs">+</text>
<line x1="1588.9" y1="1861.1" x2="1710.7" y2="1861.1" stroke="#000" stroke-width="1.8"/>
<text x="1607.53" y="1884.9" font-size="25.53" textLength="98.99" lengthAdjust="spacingAndGlyphs">10 ng/ml</text>
<text x="0" y="0" font-size="29.61" textLength="136.57" lengthAdjust="spacingAndGlyphs" transform="translate(1752.66 1694.4) rotate(-90)">Ifng/HPRT</text>
<text x="1804.04" y="1820" font-size="21.2" textLength="11.79" lengthAdjust="spacingAndGlyphs" fill="#595959">0</text>
<text x="1751.05" y="1748.02" font-size="21.2" textLength="64.84" lengthAdjust="spacingAndGlyphs" fill="#595959">0.0005</text>
<text x="1762.98" y="1676.04" font-size="21.2" textLength="53.05" lengthAdjust="spacingAndGlyphs" fill="#595959">0.001</text>
<text x="1751.05" y="1604.06" font-size="21.2" textLength="64.84" lengthAdjust="spacingAndGlyphs" fill="#595959">0.0015</text>
<text x="1763.01" y="1532.08" font-size="21.2" textLength="53.05" lengthAdjust="spacingAndGlyphs" fill="#595959">0.002</text>
<text x="1751.05" y="1460.1" font-size="21.2" textLength="64.84" lengthAdjust="spacingAndGlyphs" fill="#595959">0.0025</text>
<rect x="1841.7" y="1543.1" width="19.8" height="274.4" fill="#000"/>
<rect x="1906" y="1601" width="21" height="216.5" fill="#000"/>
<line x1="1851.6" y1="1524.4" x2="1851.6" y2="1559.4" stroke="#555" stroke-width="2.8"/>
<line x1="1849.2" y1="1524.4" x2="1854" y2="1524.4" stroke="#555" stroke-width="2.8"/>
<line x1="1849.2" y1="1559.4" x2="1854" y2="1559.4" stroke="#555" stroke-width="2.8"/>
<line x1="1916.3" y1="1570.9" x2="1916.3" y2="1631.1" stroke="#555" stroke-width="2.8"/>
<line x1="1913.9" y1="1570.9" x2="1918.7" y2="1570.9" stroke="#555" stroke-width="2.8"/>
<line x1="1913.9" y1="1631.1" x2="1918.7" y2="1631.1" stroke="#555" stroke-width="2.8"/>
<line x1="1819.8" y1="1457.5" x2="1819.8" y2="1819" stroke="#000" stroke-width="3"/>
<line x1="1818.3" y1="1817.5" x2="1948.8" y2="1817.5" stroke="#000" stroke-width="3"/>
<text x="1835.19" y="1860.52" font-size="67.84" textLength="18.82" lengthAdjust="spacingAndGlyphs">-</text>
<text x="1911.41" y="1849.8" font-size="31.89" textLength="18.99" lengthAdjust="spacingAndGlyphs">+</text>
<line x1="1819" y1="1861.1" x2="1940.9" y2="1861.1" stroke="#000" stroke-width="1.8"/>
<text x="1837.74" y="1884.9" font-size="25.53" textLength="98.89" lengthAdjust="spacingAndGlyphs">10 ng/ml</text>
<text x="-3.58" y="1962.18" font-size="43.22" textLength="33.72" lengthAdjust="spacingAndGlyphs">G</text>
<rect x="316.4" y="1971.3" width="88.5" height="40.7" fill="none" stroke="#000" stroke-width="2"/>
<text x="324.73" y="2001.47" font-size="33.77" textLength="67.87" lengthAdjust="spacingAndGlyphs" font-style="italic">Ccl2</text>
<text x="0" y="0" font-size="33.5" textLength="184.55" lengthAdjust="spacingAndGlyphs" transform="translate(29.07 2214.59) rotate(-90)">CCL2/HPRT</text>
<text x="52.96" y="2285.5" font-size="21.2" textLength="11.08" lengthAdjust="spacingAndGlyphs" fill="#595959">0</text>
<text x="40.91" y="2246" font-size="21.2" textLength="27.7" lengthAdjust="spacingAndGlyphs" fill="#595959">0.2</text>
<text x="40.7" y="2206.5" font-size="21.2" textLength="27.7" lengthAdjust="spacingAndGlyphs" fill="#595959">0.4</text>
<text x="40.85" y="2167" font-size="21.2" textLength="27.7" lengthAdjust="spacingAndGlyphs" fill="#595959">0.6</text>
<text x="40.84" y="2127.5" font-size="21.2" textLength="27.7" lengthAdjust="spacingAndGlyphs" fill="#595959">0.8</text>
<text x="52.69" y="2087.99" font-size="21.2" textLength="11.08" lengthAdjust="spacingAndGlyphs" fill="#595959">1</text>
<text x="40.54" y="2048.6" font-size="21.2" textLength="27.7" lengthAdjust="spacingAndGlyphs" fill="#595959">1.2</text>
<text x="40.33" y="2008.99" font-size="21.2" textLength="27.7" lengthAdjust="spacingAndGlyphs" fill="#595959">1.4</text>
<rect x="128" y="2206" width="43" height="78.2" fill="#000"/>
<rect x="266.4" y="2085.9" width="43.4" height="198.3" fill="#000"/>
<rect x="404.8" y="2142" width="43" height="142.2" fill="#000"/>
<rect x="543.2" y="2174.2" width="43" height="110" fill="#000"/>
<line x1="148.9" y1="2191" x2="148.9" y2="2220.6" stroke="#555" stroke-width="2.8"/>
<line x1="145.9" y1="2191" x2="151.9" y2="2191" stroke="#555" stroke-width="2.8"/>
<line x1="145.9" y1="2220.6" x2="151.9" y2="2220.6" stroke="#555" stroke-width="2.8"/>
<line x1="287.7" y1="2047" x2="287.7" y2="2125.2" stroke="#555" stroke-width="2.8"/>
<line x1="284.7" y1="2047" x2="290.7" y2="2047" stroke="#555" stroke-width="2.8"/>
<line x1="284.7" y1="2125.2" x2="290.7" y2="2125.2" stroke="#555" stroke-width="2.8"/>
<line x1="426.5" y1="2087" x2="426.5" y2="2197.4" stroke="#555" stroke-width="2.8"/>
<line x1="423.5" y1="2087" x2="429.5" y2="2087" stroke="#555" stroke-width="2.8"/>
<line x1="423.5" y1="2197.4" x2="429.5" y2="2197.4" stroke="#555" stroke-width="2.8"/>
<line x1="564.9" y1="2152.5" x2="564.9" y2="2195.5" stroke="#555" stroke-width="2.8"/>
<line x1="561.9" y1="2152.5" x2="567.9" y2="2152.5" stroke="#555" stroke-width="2.8"/>
<line x1="561.9" y1="2195.5" x2="567.9" y2="2195.5" stroke="#555" stroke-width="2.8"/>
<line x1="79.7" y1="2007.5" x2="79.7" y2="2285.7" stroke="#000" stroke-width="3"/>
<line x1="78.2" y1="2284.2" x2="634.1" y2="2284.2" stroke="#000" stroke-width="3"/>
<text x="135.29" y="2311.56" font-size="26.3" textLength="27.52" lengthAdjust="spacingAndGlyphs">(-)</text>
<text x="277.56" y="2311.56" font-size="26.3" textLength="26.37" lengthAdjust="spacingAndGlyphs">(-)</text>
<text x="414.82" y="2311" font-size="23.69" textLength="40.15" lengthAdjust="spacingAndGlyphs">NN</text>
<text x="554.17" y="2311" font-size="23.69" textLength="49.12" lengthAdjust="spacingAndGlyphs">LVK</text>
<text x="234.57" y="2336.72" font-size="25.95" textLength="114.31" lengthAdjust="spacingAndGlyphs">LPS 10ng</text>
<text x="372.76" y="2336.72" font-size="25.95" textLength="114.52" lengthAdjust="spacingAndGlyphs">LPS 10ng</text>
<text x="511.16" y="2336.72" font-size="25.95" textLength="114.52" lengthAdjust="spacingAndGlyphs">LPS 10ng</text>
<text x="646.77" y="1957.9" font-size="41.72" textLength="29.35" lengthAdjust="spacingAndGlyphs">H</text>
<rect x="1006.7" y="1960.8" width="82" height="41.1" fill="none" stroke="#000" stroke-width="2"/>
<text x="1019.99" y="1991.58" font-size="32.54" textLength="53.22" lengthAdjust="spacingAndGlyphs" font-style="italic">Il1b</text>
<text x="0" y="0" font-size="33.91" textLength="164.02" lengthAdjust="spacingAndGlyphs" transform="translate(729.77 2214.16) rotate(-90)">IL1b/HPRT</text>
<text x="755.36" y="2288.5" font-size="21.2" textLength="11.08" lengthAdjust="spacingAndGlyphs" fill="#595959">0</text>
<text x="742.66" y="2251.34" font-size="21.2" textLength="27.7" lengthAdjust="spacingAndGlyphs" fill="#595959">0.2</text>
<text x="742.45" y="2214.18" font-size="21.2" textLength="27.7" lengthAdjust="spacingAndGlyphs" fill="#595959">0.4</text>
<text x="742.6" y="2177.02" font-size="21.2" textLength="27.7" lengthAdjust="spacingAndGlyphs" fill="#595959">0.6</text>
<text x="742.59" y="2139.86" font-size="21.2" textLength="27.7" lengthAdjust="spacingAndGlyphs" fill="#595959">0.8</text>
<text x="755.09" y="2102.69" font-size="21.2" textLength="11.08" lengthAdjust="spacingAndGlyphs" fill="#595959">1</text>
<text x="742.29" y="2065.64" font-size="21.2" textLength="27.7" lengthAdjust="spacingAndGlyphs" fill="#595959">1.2</text>
<text x="742.08" y="2028.37" font-size="21.2" textLength="27.7" lengthAdjust="spacingAndGlyphs" fill="#595959">1.4</text>
<rect x="955.6" y="2102.2" width="40.3" height="185" fill="#000"/>
<rect x="1084.7" y="2139.7" width="40.3" height="147.5" fill="#000"/>
<rect x="1213.7" y="2162.8" width="39.1" height="124.4" fill="#000"/>
<line x1="975.5" y1="2058.4" x2="975.5" y2="2144.4" stroke="#555" stroke-width="2.8"/>
<line x1="972.5" y1="2058.4" x2="978.5" y2="2058.4" stroke="#555" stroke-width="2.8"/>
<line x1="972.5" y1="2144.4" x2="978.5" y2="2144.4" stroke="#555" stroke-width="2.8"/>
<line x1="1104.2" y1="2125.7" x2="1104.2" y2="2154.2" stroke="#555" stroke-width="2.8"/>
<line x1="1101.2" y1="2125.7" x2="1107.2" y2="2125.7" stroke="#555" stroke-width="2.8"/>
<line x1="1101.2" y1="2154.2" x2="1107.2" y2="2154.2" stroke="#555" stroke-width="2.8"/>
<line x1="1233.3" y1="2145.2" x2="1233.3" y2="2178.8" stroke="#555" stroke-width="2.8"/>
<line x1="1230.3" y1="2145.2" x2="1236.3" y2="2145.2" stroke="#555" stroke-width="2.8"/>
<line x1="1230.3" y1="2178.8" x2="1236.3" y2="2178.8" stroke="#555" stroke-width="2.8"/>
<line x1="782" y1="2027" x2="782" y2="2288.7" stroke="#000" stroke-width="3"/>
<line x1="780.5" y1="2287.2" x2="1297" y2="2287.2" stroke="#000" stroke-width="3"/>
<text x="832.99" y="2312.26" font-size="26.3" textLength="27.52" lengthAdjust="spacingAndGlyphs">(-)</text>
<text x="965" y="2312.26" font-size="26.3" textLength="27.4" lengthAdjust="spacingAndGlyphs">(-)</text>
<text x="1093.4" y="2312.6" font-size="24.42" textLength="38.79" lengthAdjust="spacingAndGlyphs">NN</text>
<text x="1221.76" y="2312.6" font-size="24.42" textLength="49.33" lengthAdjust="spacingAndGlyphs">LVK</text>
<text x="933.76" y="2343.54" font-size="25.83" textLength="114.42" lengthAdjust="spacingAndGlyphs">LPS 10ng</text>
<text x="1062.16" y="2343.54" font-size="25.83" textLength="114.52" lengthAdjust="spacingAndGlyphs">LPS 10ng</text>
<text x="1191.25" y="2343.54" font-size="25.83" textLength="115.24" lengthAdjust="spacingAndGlyphs">LPS 10ng</text>
<text x="1319.65" y="1957.9" font-size="41.57" textLength="13.7" lengthAdjust="spacingAndGlyphs">I</text>
<rect x="1669.9" y="1960.8" width="82.8" height="41.1" fill="none" stroke="#000" stroke-width="2"/>
<text x="1682.97" y="1992.17" font-size="33.63" textLength="54.41" lengthAdjust="spacingAndGlyphs" font-style="italic">Il10</text>
<text x="0" y="0" font-size="33.5" textLength="163.41" lengthAdjust="spacingAndGlyphs" transform="translate(1403.67 2239.65) rotate(-90)">IL10/HPRT</text>
<text x="1426.9" y="2294.3" font-size="21.2" textLength="11.79" lengthAdjust="spacingAndGlyphs" fill="#595959">0</text>
<text x="1426.9" y="2266.65" font-size="21.2" textLength="11.79" lengthAdjust="spacingAndGlyphs" fill="#595959">2</text>
<text x="1426.97" y="2238.79" font-size="21.2" textLength="11.79" lengthAdjust="spacingAndGlyphs" fill="#595959">4</text>
<text x="1426.83" y="2211.05" font-size="21.2" textLength="11.79" lengthAdjust="spacingAndGlyphs" fill="#595959">6</text>
<text x="1426.9" y="2183.3" font-size="21.2" textLength="11.79" lengthAdjust="spacingAndGlyphs" fill="#595959">8</text>
<text x="1420.22" y="2155.55" font-size="21.2" textLength="23.58" lengthAdjust="spacingAndGlyphs" fill="#595959">10</text>
<text x="1420.34" y="2127.9" font-size="21.2" textLength="23.58" lengthAdjust="spacingAndGlyphs" fill="#595959">12</text>
<text x="1420.11" y="2100.04" font-size="21.2" textLength="23.58" lengthAdjust="spacingAndGlyphs" fill="#595959">14</text>
<text x="1420.27" y="2072.3" font-size="21.2" textLength="23.58" lengthAdjust="spacingAndGlyphs" fill="#595959">16</text>
<text x="1420.26" y="2044.55" font-size="21.2" textLength="23.58" lengthAdjust="spacingAndGlyphs" fill="#595959">18</text>
<text x="1420.49" y="2016.8" font-size="21.2" textLength="23.58" lengthAdjust="spacingAndGlyphs" fill="#595959">20</text>
<rect x="1632.3" y="2279.7" width="41.6" height="13.5" fill="#000"/>
<rect x="1765.3" y="2162.1" width="41.6" height="131.1" fill="#000"/>
<rect x="1897.5" y="2082.7" width="42" height="210.5" fill="#000"/>
<line x1="1653.8" y1="2278" x2="1653.8" y2="2281" stroke="#555" stroke-width="2.8"/>
<line x1="1650.8" y1="2278" x2="1656.8" y2="2278" stroke="#555" stroke-width="2.8"/>
<line x1="1650.8" y1="2281" x2="1656.8" y2="2281" stroke="#555" stroke-width="2.8"/>
<line x1="1786.5" y1="2142.1" x2="1786.5" y2="2181.4" stroke="#555" stroke-width="2.8"/>
<line x1="1783.5" y1="2142.1" x2="1789.5" y2="2142.1" stroke="#555" stroke-width="2.8"/>
<line x1="1783.5" y1="2181.4" x2="1789.5" y2="2181.4" stroke="#555" stroke-width="2.8"/>
<line x1="1918.7" y1="2053.4" x2="1918.7" y2="2111.3" stroke="#555" stroke-width="2.8"/>
<line x1="1915.7" y1="2053.4" x2="1921.7" y2="2053.4" stroke="#555" stroke-width="2.8"/>
<line x1="1915.7" y1="2111.3" x2="1921.7" y2="2111.3" stroke="#555" stroke-width="2.8"/>
<line x1="1454.5" y1="2015.5" x2="1454.5" y2="2294.7" stroke="#000" stroke-width="3"/>
<line x1="1453" y1="2293.2" x2="1985" y2="2293.2" stroke="#000" stroke-width="3"/>
<line x1="1661.2" y1="2115.9" x2="1801.1" y2="2115.9" stroke="#000" stroke-width="2"/>
<text x="1701.88" y="2118.18" font-size="32.55" textLength="25.33" lengthAdjust="spacingAndGlyphs">**</text>
<line x1="1667" y1="2029" x2="1908.7" y2="2030.5" stroke="#000" stroke-width="2"/>
<text x="1829.08" y="2031.18" font-size="32.55" textLength="25.33" lengthAdjust="spacingAndGlyphs">**</text>
<text x="1507.11" y="2319.17" font-size="26.73" textLength="27.29" lengthAdjust="spacingAndGlyphs">(-)</text>
<text x="1643.21" y="2319.17" font-size="26.73" textLength="27.17" lengthAdjust="spacingAndGlyphs">(-)</text>
<text x="1775.35" y="2318.3" font-size="23.69" textLength="39.58" lengthAdjust="spacingAndGlyphs">NN</text>
<text x="1907.65" y="2318.3" font-size="23.69" textLength="49.54" lengthAdjust="spacingAndGlyphs">LVK</text>
<text x="1622.77" y="2347.15" font-size="26.28" textLength="114.31" lengthAdjust="spacingAndGlyphs">LPS 10ng</text>
<text x="1755.36" y="2347.15" font-size="26.28" textLength="114.52" lengthAdjust="spacingAndGlyphs">LPS 10ng</text>
<text x="1887.66" y="2347.15" font-size="26.28" textLength="114.52" lengthAdjust="spacingAndGlyphs">LPS 10ng</text>
</svg>
</body></html>
